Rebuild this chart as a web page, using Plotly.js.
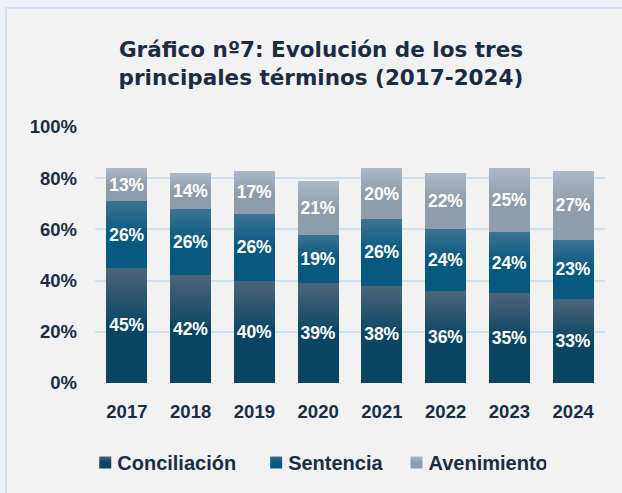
<!DOCTYPE html>
<html><head><meta charset="utf-8">
<script src="https://cdn.plot.ly/plotly-3.0.1.min.js"></script>
<style>
html,body{margin:0;padding:0;background:#eef2f7;width:622px;height:493px;overflow:hidden;}
#frame{position:absolute;left:5px;top:7px;width:640px;height:520px;border:2px solid #d3e2f4;background:#f2f2f2;}
#chart{position:absolute;left:0;top:0;width:622px;height:493px;}
</style></head>
<body>
<div id="frame"></div>
<div id="chart"></div>
<script>
const years = ['2017','2018','2019','2020','2021','2022','2023','2024'];
const conciliacion = [45,42,40,39,38,36,35,33];
const sentencia = [26,26,26,19,26,24,24,23];
const avenimiento = [13,14,17,21,20,22,25,27];
const yTicks = [0,20,40,60,80,100];
const yTickText = ['0%','20%','40%','60%','80%','100%'];

const seriesNames = ['Conciliación','Sentencia','Avenimiento'];
const seriesVals = [conciliacion, sentencia, avenimiento];
const solid = ['#1b4d68','#1a6286','#9eacb9'];
const grads = [['#4d6579','#0a4663'],['#3d7393','#08597f'],['#adb8c4','#8e9dac']];

const lbl = {family:'Liberation Sans, Arial, sans-serif', size:17.5, color:'#ffffff', weight:'bold'};
const traces = seriesNames.map((n,i)=>({
  type:'bar', name:n, x:years, y:seriesVals[i],
  text:seriesVals[i].map(v=>v+'%'), textinfo:'text',
  marker:{color:solid[i], line:{width:0}},
  textposition:'inside', insidetextanchor:'middle', textangle:0,
  textfont:lbl, constraintext:'none', hoverinfo:'skip'
}));

const dark = '#1b2d45';
const tickF = {family:'Liberation Sans, Arial, sans-serif', size:18.5, color:dark, weight:'bold'};
const layout = {
  width:622, height:493,
  paper_bgcolor:'rgba(0,0,0,0)', plot_bgcolor:'rgba(0,0,0,0)',
  barmode:'stack', bargap:0.36,
  margin:{l:95, r:17, t:127, b:109},
  title:{text:'<b>Gráfico nº7: Evolución de los tres<br>principales términos (2017-2024)</b>',
    x:0.516, xref:'container', xanchor:'center', y:0.885, yref:'container', yanchor:'middle',
    font:{family:'DejaVu Sans, sans-serif', size:21.5, color:'#1b2d45'}},
  xaxis:{type:'category', showgrid:false, zeroline:false, showline:false, ticks:'',
    ticklabelstandoff:15, tickfont:tickF},
  yaxis:{range:[0,100], tickvals:yTicks, ticktext:yTickText, showgrid:true,
    gridcolor:'#cfe0f2', gridwidth:2, zeroline:false, showline:false, ticks:'',
    ticklabelstandoff:17, tickfont:tickF},
  showlegend:true,
  legend:{orientation:'h', x:0.425, xanchor:'center', y:-0.305, yanchor:'middle',
    traceorder:'normal', itemclick:false, itemwidth:30,
    font:{family:'Liberation Sans, Arial, sans-serif', size:20, color:dark, weight:'bold'}},
};

Plotly.newPlot('chart', traces, layout, {staticPlot:true, displayModeBar:false}).then(gd=>{
  const svg = gd.querySelector('svg.main-svg');
  const NS = 'http://www.w3.org/2000/svg';
  const defs = document.createElementNS(NS,'defs');
  grads.forEach((g,i)=>{
    const lg = document.createElementNS(NS,'linearGradient');
    lg.setAttribute('id','bg'+i);
    lg.setAttribute('x1','0');lg.setAttribute('y1','0');lg.setAttribute('x2','0');lg.setAttribute('y2','1');
    [[0,g[0]],[0.5,g[1]],[1,g[1]]].forEach(s=>{
      const st=document.createElementNS(NS,'stop');
      st.setAttribute('offset',s[0]);st.setAttribute('stop-color',s[1]);lg.appendChild(st);
    });
    defs.appendChild(lg);
  });
  svg.insertBefore(defs, svg.firstChild);
  gd.querySelectorAll('.barlayer .trace').forEach((t,i)=>{
    t.querySelectorAll('path').forEach(p=>{p.style.fill='url(#bg'+i+')';});
  });
  gd.querySelectorAll('.legend .traces').forEach((t,i)=>{
    t.querySelectorAll('.legendpoints path').forEach(p=>{
      p.style.fill='url(#bg'+i+')';
      p.setAttribute('d','M6,6H-6V-6H6Z');
      p.setAttribute('transform','translate(28,0)');
    });
    if(i>0){
      const tr = t.getAttribute('transform')||'';
      const m = tr.match(/translate\(\s*([-\d.]+)[ ,]+([-\d.]+)\s*\)/);
      if(m){ t.setAttribute('transform','translate('+(parseFloat(m[1])+7)+','+m[2]+')'); }
    }
  });
});
</script>
</body></html>
